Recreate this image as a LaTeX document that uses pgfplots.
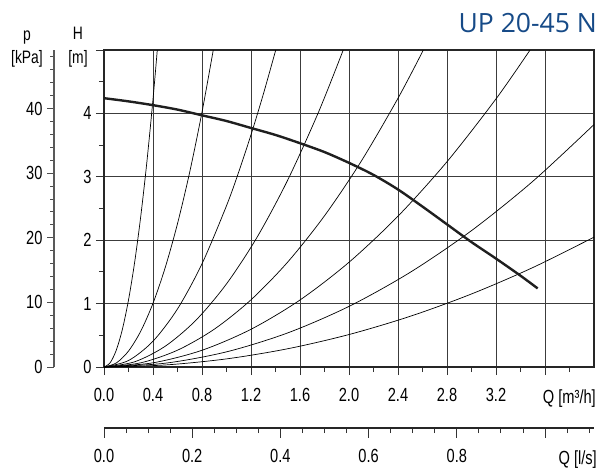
\documentclass[border=0pt]{standalone}
\usepackage{fontspec}
\setmainfont{Liberation Sans}[FakeStretch=0.77]
\newfontfamily\titlefont{Open Sans}
\usepackage{pgfplots}
\pgfplotsset{compat=1.18}
\definecolor{titleblue}{RGB}{22,74,135}
\definecolor{gridc}{RGB}{60,60,60}

\begin{document}
\begin{tikzpicture}
\useasboundingbox (0,0) rectangle (600pt,467pt);

% main chart: H [m] over Q [m3/h]
\begin{axis}[
    at={(104pt,100pt)}, anchor=south west,
    scale only axis, width=490pt, height=317pt,
    xmin=0, xmax=4, ymin=0, ymax=5,
    xtick={0,0.4,0.8,1.2,1.6,2.0,2.4,2.8,3.2,3.6},
    xticklabels={0.0,0.4,0.8,1.2,1.6,2.0,2.4,2.8,3.2,{}},
    minor xtick={0.2,0.6,1.0,1.4,1.8,2.2,2.6,3.0,3.4,3.8},
    ytick={0,1,2,3,4,5},
    yticklabels={0,1,2,3,4,{}},
    minor ytick={0.5,1.5,2.5,3.5,4.5},
    xtick pos=bottom, ytick pos=left,
    tick align=outside,
    major tick length=8pt, minor tick length=5pt,
    every tick/.style={black!80, line width=0.9pt},
    grid=major,
    major grid style={gridc, line width=0.8pt},
    axis line style={black!85, line width=1.5pt},
    tick label style={font=\fontsize{19}{21}\selectfont},
    xticklabel style={yshift=-10pt},
    yticklabel style={xshift=-1pt},
    clip=true,
]
% system curves
\addplot[black, line width=0.7pt, smooth] coordinates {
(0,0) (0.05,0.066) (0.1,0.264) (0.15,0.594) (0.2,1.056) (0.25,1.65) (0.3,2.376) (0.35,3.234) (0.4,4.224) (0.435,5.0)};
\addplot[black, line width=0.7pt, smooth] coordinates {
(0,0) (0.1,0.063) (0.2,0.251) (0.3,0.565) (0.4,1.005) (0.5,1.57) (0.6,2.261) (0.7,3.077) (0.8,4.019) (0.892,5.0)};
\addplot[black, line width=0.7pt, smooth] coordinates {
(0,0) (0.2,0.102) (0.4,0.407) (0.6,0.916) (0.8,1.628) (1.0,2.544) (1.1,3.078) (1.2,3.663) (1.3,4.299) (1.402,5.0)};
\addplot[black, line width=0.7pt, smooth] coordinates {
(0,0) (0.25,0.082) (0.5,0.328) (0.75,0.737) (1.0,1.311) (1.25,2.048) (1.5,2.950) (1.75,4.015) (1.953,5.0)};
\addplot[black, line width=0.7pt, smooth] coordinates {
(0,0) (0.3,0.066) (0.6,0.265) (0.9,0.596) (1.2,1.060) (1.5,1.656) (1.8,2.385) (2.1,3.246) (2.4,4.239) (2.607,5.0)};
\addplot[black, line width=0.7pt, smooth] coordinates {
(0,0) (0.4,0.066) (0.8,0.264) (1.2,0.595) (1.6,1.057) (2.0,1.652) (2.4,2.379) (2.8,3.238) (3.2,4.229) (3.478,5.0)};
\addplot[black, line width=0.7pt, smooth] coordinates {
(0,0) (0.5,0.060) (1.0,0.239) (1.5,0.538) (2.0,0.956) (2.5,1.494) (3.0,2.151) (3.5,2.928) (4.0,3.824)};
\addplot[black, line width=0.7pt, smooth] coordinates {
(0,0) (0.5,0.032) (1.0,0.128) (1.5,0.288) (2.0,0.512) (2.5,0.800) (3.0,1.152) (3.5,1.568) (4.0,2.048)};
% pump curve
\addplot[black!88, line width=2.4pt, smooth] coordinates {
(0,4.24) (0.2,4.19) (0.4,4.13) (0.6,4.06) (0.8,3.97) (1.0,3.88) (1.2,3.77) (1.4,3.66)
(1.6,3.53) (1.8,3.39) (2.0,3.22) (2.2,3.03) (2.4,2.80) (2.6,2.53) (2.8,2.25) (3.0,1.97)
(3.2,1.71) (3.4,1.44) (3.54,1.24)};
\end{axis}

% pressure scale p [kPa]
\begin{axis}[
    at={(54pt,100pt)}, anchor=south west,
    scale only axis, width=1pt, height=317pt,
    xmin=0, xmax=1, ymin=0, ymax=49.05,
    axis x line=none, axis y line*=left,
    axis line style={-, black!65, line width=1.8pt},
    ytick={0,10,20,30,40},
    minor ytick={2,4,6,8,12,14,16,18,22,24,26,28,32,34,36,38,42,44,46,48},
    tick align=outside,
    major tick length=7pt, minor tick length=4pt,
    every tick/.style={black!70, line width=0.9pt},
    /pgf/number format/assume math mode=true,
    tick label style={font=\fontsize{19}{21}\selectfont},
    yticklabel style={xshift=-1pt},
]
\addplot[draw=none] coordinates {(0,0) (1,49.05)};
\end{axis}

% flow scale Q [l/s]
\begin{axis}[
    at={(104pt,39pt)}, anchor=south west,
    scale only axis, width=490pt, height=1pt,
    xmin=0, xmax=1.1111, ymin=0, ymax=1,
    axis y line=none, axis x line*=bottom,
    axis line style={-, black!85, line width=1.3pt},
    xtick={0,0.2,0.4,0.6,0.8,1.0},
    xticklabels={0.0,0.2,0.4,0.6,0.8,{}},
    minor xtick={0.05,0.1,0.15,0.25,0.3,0.35,0.45,0.5,0.55,0.65,0.7,0.75,0.85,0.9,0.95,1.05,1.1},
    tick align=outside,
    major tick length=10pt, minor tick length=5pt,
    every tick/.style={black!80, line width=0.9pt},
    tick label style={font=\fontsize{19}{21}\selectfont},
    xticklabel style={yshift=-8pt},
]
\addplot[draw=none] coordinates {(0,0) (1.1111,1)};
\end{axis}

% labels
\node[anchor=base, font=\fontsize{18}{20}\selectfont] at (27pt,426pt) {p};
\node[anchor=base, font=\fontsize{18}{20}\selectfont] at (27pt,403pt) {[kPa]};
\node[anchor=base, font=\fontsize{18}{20}\selectfont] at (78pt,427pt) {H};
\node[anchor=base, font=\fontsize{18}{20}\selectfont] at (78pt,403pt) {[m]};
\node[anchor=base east, inner sep=0pt, font=\fontsize{19}{21}\selectfont] at (596pt,64pt) {Q [m³/h]};
\node[anchor=base east, inner sep=0pt, font=\fontsize{19}{21}\selectfont] at (597pt,3pt) {Q [l/s]};
\node[anchor=base east, inner sep=0pt, text=titleblue, font=\titlefont\fontsize{26.5}{28}\selectfont] at (597pt,434pt) {UP 20-45 N};
\end{tikzpicture}
\end{document}
